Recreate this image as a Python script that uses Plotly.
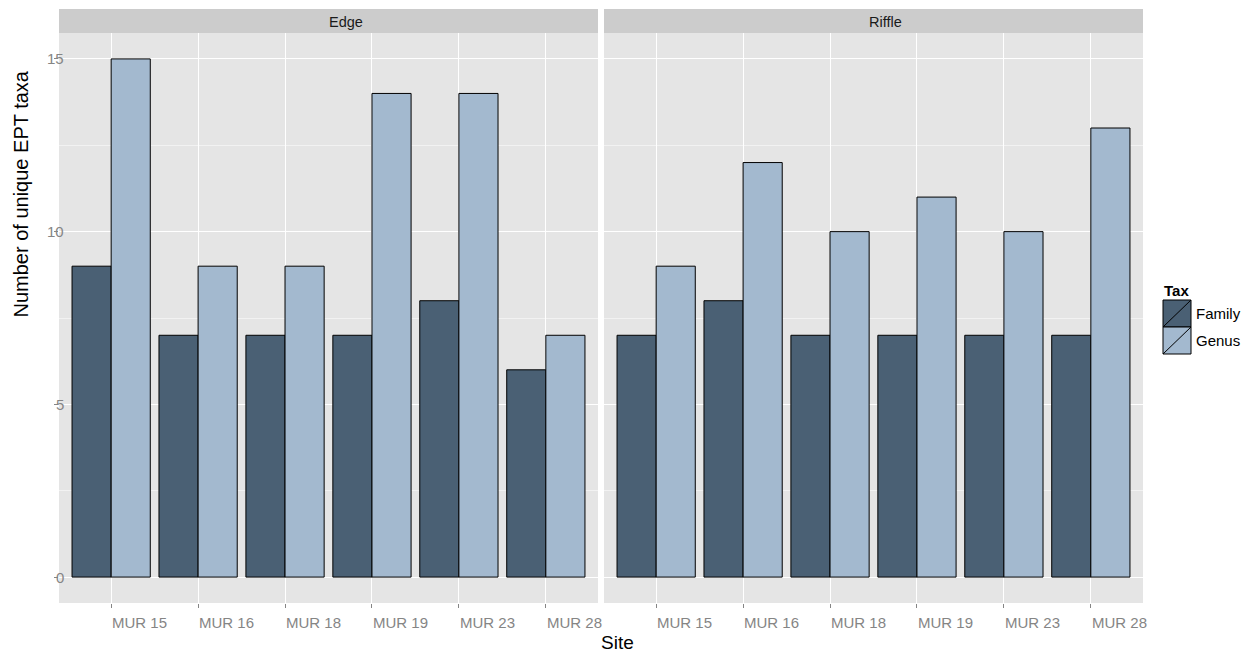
import plotly.graph_objects as go

sites = ["MUR 15", "MUR 16", "MUR 18", "MUR 19", "MUR 23", "MUR 28"]
panels = ["Edge", "Riffle"]
edge_family = [9, 7, 7, 7, 8, 6]
edge_genus = [15, 9, 9, 14, 14, 7]
riffle_family = [7, 8, 7, 7, 7, 7]
riffle_genus = [9, 12, 10, 11, 10, 13]
y_ticks = [0, 5, 10, 15]
y_minor = [2.5, 7.5, 12.5]

OFF = 8  # page body margin
W, H = 1257 - OFF, 653 - OFF
FAM = "#4A6074"
GEN = "#A3B9CF"
TICK = "#858585"
FONT = "Liberation Sans, Arial, sans-serif"

def px(x):
    return (x - OFF) / W

def py(y):
    return 1 - (y - OFF) / H

fig = go.Figure()
data = [(edge_family, edge_genus, "x", "y"), (riffle_family, riffle_genus, "x2", "y2")]
for fam, gen, xa, ya in data:
    fig.add_trace(go.Bar(x=sites, y=fam, name="Family", marker=dict(color=FAM, line=dict(color="black", width=1)),
                         xaxis=xa, yaxis=ya, showlegend=False, offsetgroup="f"))
    fig.add_trace(go.Bar(x=sites, y=gen, name="Genus", marker=dict(color=GEN, line=dict(color="black", width=1)),
                         xaxis=xa, yaxis=ya, showlegend=False, offsetgroup="g"))

panel_x = [(59, 598), (604, 1143)]
strip_text_x = [346, 885]
top, bottom = 33, 603
yr = [-0.75, 15.75]
xr = [-0.6, 5.6]

common_x = dict(range=xr, showgrid=True, gridcolor="white", gridwidth=1.2, ticks="outside", ticklen=4,
                tickcolor=TICK, showticklabels=False, zeroline=False, showline=False, fixedrange=True)
minor = dict(tickvals=y_minor, showgrid=True, gridcolor="#F2F2F2", gridwidth=0.6, ticks="")
fig.update_layout(
    xaxis=dict(domain=[px(panel_x[0][0]), px(panel_x[0][1])], anchor="y", **common_x),
    xaxis2=dict(domain=[px(panel_x[1][0]), px(panel_x[1][1])], anchor="y2", **common_x),
    yaxis=dict(domain=[py(bottom), py(top)], range=yr, tickvals=y_ticks, showticklabels=False,
               ticks="outside", ticklen=4, tickcolor=TICK, gridcolor="white", gridwidth=1.2,
               zeroline=False, showline=False, anchor="x", minor=minor),
    yaxis2=dict(domain=[py(bottom), py(top)], range=yr, tickvals=y_ticks, showticklabels=False,
                ticks="", gridcolor="white", gridwidth=1.2, zeroline=False, showline=False, anchor="x2",
                minor=minor),
    plot_bgcolor="#E5E5E5",
    paper_bgcolor="white",
    barmode="group",
    bargap=0.1,
    bargroupgap=0,
    width=W, height=H,
    margin=dict(l=0, r=0, t=0, b=0),
    font=dict(family=FONT),
)

shapes = []
annotations = []
# strips
for (x0, x1), name, tx in zip(panel_x, panels, strip_text_x):
    shapes.append(dict(type="rect", xref="paper", yref="paper", x0=px(x0), x1=px(x1), y0=py(top), y1=py(9),
                       fillcolor="#CCCCCC", line=dict(width=0), layer="below"))
    annotations.append(dict(text=name, xref="paper", yref="paper", x=px(tx), y=py(22),
                            showarrow=False, font=dict(size=14.5, color="#1A1A1A"), xanchor="center", yanchor="middle"))

# x tick labels (left-aligned at tick)
for xa in ["x", "x2"]:
    for s in sites:
        annotations.append(dict(text=s, xref=xa, yref="paper", x=s, y=py(622), xanchor="left", yanchor="middle",
                                xshift=-1, showarrow=False, font=dict(size=15, color=TICK)))
# y tick labels
for v in y_ticks:
    annotations.append(dict(text=str(v), xref="paper", yref="y", x=px(66), y=v, xanchor="right", yanchor="middle",
                            showarrow=False, font=dict(size=15, color=TICK)))

# axis titles
annotations.append(dict(text="Site", xref="paper", yref="paper", x=px(617), y=py(642), showarrow=False,
                        xanchor="center", yanchor="middle", font=dict(size=19, color="black")))
annotations.append(dict(text="Number of unique EPT taxa", xref="paper", yref="paper", x=px(20), y=py(320),
                        showarrow=False, textangle=-90, xanchor="center", yanchor="bottom",
                        font=dict(size=20, color="black")))

# legend
annotations.append(dict(text="<b>Tax</b>", xref="paper", yref="paper", x=px(1162), y=py(290), showarrow=False,
                        xanchor="left", yanchor="middle", font=dict(size=15, color="black")))
for i, (lab, col) in enumerate([("Family", FAM), ("Genus", GEN)]):
    y0 = 300 + i * 27
    y1 = y0 + 27
    shapes.append(dict(type="rect", xref="paper", yref="paper", x0=px(1163), x1=px(1191), y0=py(y1), y1=py(y0),
                       fillcolor=col, line=dict(color="black", width=1)))
    shapes.append(dict(type="line", xref="paper", yref="paper", x0=px(1163), x1=px(1191), y0=py(y1), y1=py(y0),
                       line=dict(color="black", width=1)))
    annotations.append(dict(text=lab, xref="paper", yref="paper", x=px(1194), y=py((y0 + y1) / 2), showarrow=False,
                            xanchor="left", yanchor="middle", font=dict(size=15, color="black")))

fig.update_layout(shapes=shapes, annotations=annotations)
fig.write_html("out.html")
